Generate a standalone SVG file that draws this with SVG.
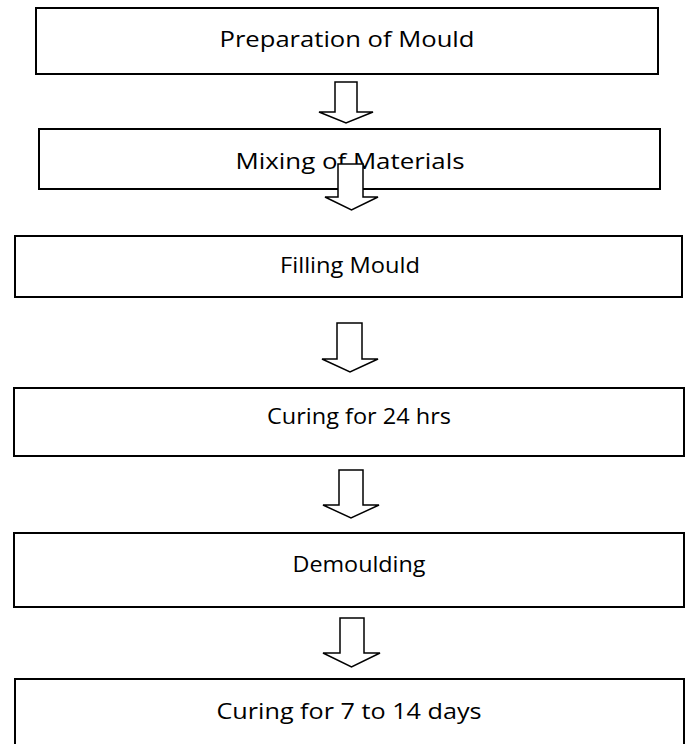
<svg xmlns="http://www.w3.org/2000/svg" width="686" height="744" viewBox="0 0 686 744">
<style>
.box{fill:#fff;stroke:#000;stroke-width:2}
.arr{fill:#fff;stroke:#000;stroke-width:1.5;stroke-linejoin:miter}
.lbl{font-family:"Open Sans","Liberation Sans",sans-serif;font-size:21.5px;fill:#000;text-anchor:middle}
</style>
<rect width="686" height="744" fill="#fff"/>
<g id="n1"><rect class="box" x="36" y="8" width="622" height="66"/><text class="lbl" x="347" y="47" textLength="255" lengthAdjust="spacingAndGlyphs">Preparation of Mould</text></g>
<g id="n2"><rect class="box" x="39" y="129" width="621" height="60"/><text class="lbl" x="350" y="169" textLength="229" lengthAdjust="spacingAndGlyphs">Mixing of Materials</text></g>
<g id="n3"><rect class="box" x="15" y="236" width="667" height="61"/><text class="lbl" x="350" y="273" textLength="140" lengthAdjust="spacingAndGlyphs">Filling Mould</text></g>
<g id="n4"><rect class="box" x="14" y="388" width="670" height="68"/><text class="lbl" x="359" y="424" textLength="184" lengthAdjust="spacingAndGlyphs">Curing for 24 hrs</text></g>
<g id="n5"><rect class="box" x="14" y="533" width="670" height="74"/><text class="lbl" x="359" y="572" textLength="133" lengthAdjust="spacingAndGlyphs">Demoulding</text></g>
<g id="n6"><rect class="box" x="15" y="679" width="669" height="80"/><text class="lbl" x="349" y="719" textLength="265" lengthAdjust="spacingAndGlyphs">Curing for 7 to 14 days</text></g>
<g id="connectors">
<polygon class="arr" points="335,82 357,82 357,112 373,112 346,123 319,112 335,112"/>
<polygon class="arr" points="338,164 363,164 363,197 378,197 351.5,210 325,197 338,197"/>
<polygon class="arr" points="337,323 362,323 362,359 378,359 350,372 322,359 337,359"/>
<polygon class="arr" points="339,470 363,470 363,505 379,505 351,518 323,505 339,505"/>
<polygon class="arr" points="340,618 364,618 364,653 380,653 351.5,667 323,653 340,653"/>
</g>
</svg>
